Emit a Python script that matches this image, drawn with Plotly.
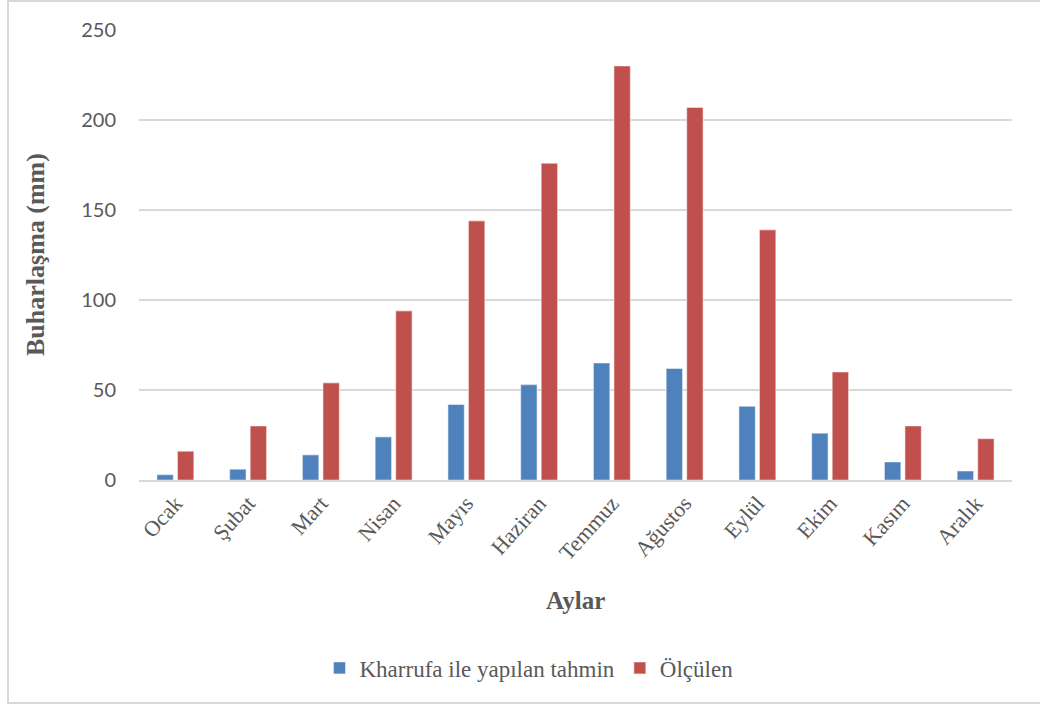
import plotly.graph_objects as go

# Monthly evaporation (mm): Kharrufa estimate vs. measured
months = ["Ocak", "Şubat", "Mart", "Nisan", "Mayıs", "Haziran",
          "Temmuz", "Ağustos", "Eylül", "Ekim", "Kasım", "Aralık"]
kharrufa = [3, 6, 14, 24, 42, 53, 65, 62, 41, 26, 10, 5]
olculen = [16, 30, 54, 94, 144, 176, 230, 207, 139, 60, 30, 23]

series_names = ["Kharrufa ile yapılan tahmin", "Ölçülen"]
y_ticks = [0, 50, 100, 150, 200, 250]

BLUE = "#4F81BD"
RED = "#C0504D"
GRAY = "#595959"
GRID = "#D9D9D9"
SERIF = "Liberation Serif, Times New Roman, serif"
SANS = "Lato"

W, H = 1040, 706
ML, MR, MT, MB = 139, 28, 30, 226
PW, PH = W - ML - MR, H - MT - MB


def px_to_paper_x(px):
    return (px - ML) / PW


def px_to_paper_y(py):
    return (H - MB - py) / PH


def serif_label(text):
    return f'<span style="font-family:\'Liberation Serif\', serif">{text}</span>'


fig = go.Figure()
fig.add_trace(go.Bar(
    x=months, y=kharrufa, name=serif_label(series_names[0]),
    marker=dict(color=BLUE, line=dict(color="rgba(255,255,255,0.45)", width=1.2)),
))
fig.add_trace(go.Bar(
    x=months, y=olculen, name=serif_label(series_names[1]),
    marker=dict(color=RED, line=dict(color="rgba(255,255,255,0.45)", width=1.2)),
))

fig.update_layout(
    width=W, height=H,
    margin=dict(l=ML, r=MR, t=MT, b=MB),
    paper_bgcolor="white", plot_bgcolor="white",
    font=dict(family=SERIF, color=GRAY),
    barmode="group", bargap=0.436, bargroupgap=0.2,
    showlegend=True,
    legend=dict(
        orientation="h", x=px_to_paper_x(529), xanchor="center",
        y=px_to_paper_y(668), yanchor="middle",
        font=dict(family=SERIF, size=23, color=GRAY),
        itemwidth=30, traceorder="normal",
    ),
    xaxis=dict(
        tickangle=-48, tickfont=dict(family=SERIF, size=22, color=GRAY),
        showgrid=False, showline=True, linecolor=GRID, linewidth=1.5,
        ticks="", automargin=False,
    ),
    yaxis=dict(
        range=[0, 250], tickvals=y_ticks,
        tickfont=dict(family=SANS, size=20, color=GRAY),
        showgrid=True, gridcolor=GRID, gridwidth=1.5,
        zeroline=False, showline=False, ticks="",
        ticklabelstandoff=22, automargin=False,
    ),
    annotations=[
        dict(text="<b>Aylar</b>", xref="paper", yref="paper",
             x=0.5, y=px_to_paper_y(600), xanchor="center", yanchor="middle",
             showarrow=False, font=dict(family=SERIF, size=25, color=GRAY)),
        dict(text="<b>Buharlaşma (mm)</b>", xref="paper", yref="paper",
             x=px_to_paper_x(35), y=0.5, xanchor="center", yanchor="middle",
             textangle=-90, showarrow=False,
             font=dict(family=SERIF, size=26, color=GRAY)),
    ],
    shapes=[
        dict(type="rect", xref="paper", yref="paper",
             x0=px_to_paper_x(8), x1=px_to_paper_x(1046),
             y0=px_to_paper_y(703), y1=px_to_paper_y(1),
             line=dict(color=GRID, width=2), fillcolor="rgba(0,0,0,0)",
             layer="below"),
    ],
)

fig.write_html("out.html")
